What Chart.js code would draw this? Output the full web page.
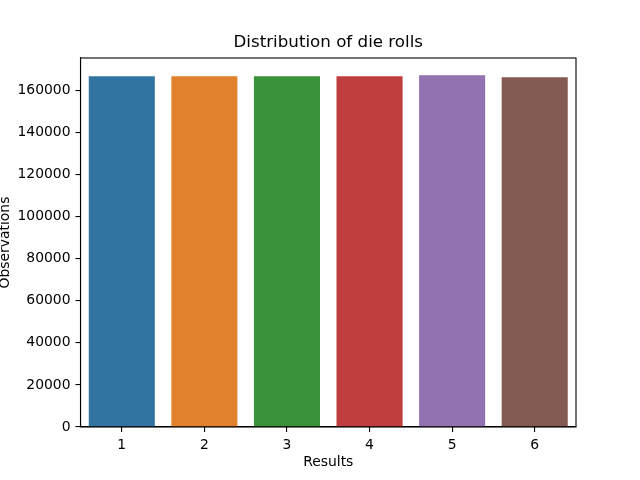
<!DOCTYPE html>
<html>
<head>
<meta charset="utf-8">
<script src="https://cdn.jsdelivr.net/npm/chart.js@4"></script>
<style>
  html, body { margin: 0; padding: 0; background: #fff; }
  #wrap { width: 640px; height: 480px; }
</style>
</head>
<body>
<div id="wrap"><canvas id="myChart"></canvas></div>
<script>
const results = ['1', '2', '3', '4', '5', '6'];
const observations = [166650, 166640, 166660, 166650, 167120, 166180];
const barColors = ['#3274a1', '#e1812c', '#3a923a', '#c03d3e', '#9372b2', '#845b53'];
const yTicks = [0, 20000, 40000, 60000, 80000, 100000, 120000, 140000, 160000];
const chartTitle = 'Distribution of die rolls';

// matplotlib-style box around the axes, title centred over the axes
const frame = {
  id: 'frame',
  afterDraw(chart) {
    const {ctx, chartArea: a} = chart;
    ctx.save();
    ctx.strokeStyle = '#000';
    ctx.lineWidth = 1.1;
    ctx.strokeRect(a.left, a.top, a.right - a.left, a.bottom - a.top);
    ctx.fillStyle = '#000';
    ctx.font = '16.7px "DejaVu Sans"';
    ctx.textAlign = 'center';
    ctx.textBaseline = 'middle';
    ctx.fillText(chartTitle, (a.left + a.right) / 2, 43);
    ctx.restore();
  }
};

const font = {family: 'DejaVu Sans', size: 13.9};

new Chart(document.getElementById('myChart').getContext('2d'), {
  type: 'bar',
  data: {
    labels: results,
    datasets: [{
      label: 'Observations',
      data: observations,
      backgroundColor: barColors,
      borderWidth: 0,
      barPercentage: 0.8,
      categoryPercentage: 1
    }]
  },
  options: {
    responsive: true,
    maintainAspectRatio: false,
    animation: false,
    layout: {padding: {left: 0, right: 64, top: 58, bottom: 0}},
    plugins: {
      legend: {display: false},
      tooltip: {enabled: false},
      title: {display: false}
    },
    scales: {
      x: {
        grid: {display: true, offset: false, drawOnChartArea: false, tickLength: 5, color: '#000', lineWidth: 1.1},
        border: {display: true, color: '#000', width: 1.1},
        ticks: {color: '#000', font: font, padding: 5, maxRotation: 0},
        title: {display: true, text: 'Results', color: '#000', font: font, padding: {top: 4, bottom: 9}},
        afterFit(scale) { scale.height = 53; }
      },
      y: {
        min: 0,
        max: 175300,
        afterBuildTicks(scale) { scale.ticks = yTicks.map(v => ({value: v})); },
        grid: {display: true, drawOnChartArea: false, tickLength: 5, color: '#000', lineWidth: 1.1},
        border: {display: true, color: '#000', width: 1.1},
        ticks: {color: '#000', font: font, padding: 5, callback: v => String(v)},
        title: {display: true, text: 'Observations', color: '#000', font: {family: 'DejaVu Sans', size: 13.9, lineHeight: 0.8}, padding: {top: 0, bottom: 2}},
        afterFit(scale) { scale.width = 80.5; }
      }
    }
  },
  plugins: [frame]
});
</script>
</body>
</html>
